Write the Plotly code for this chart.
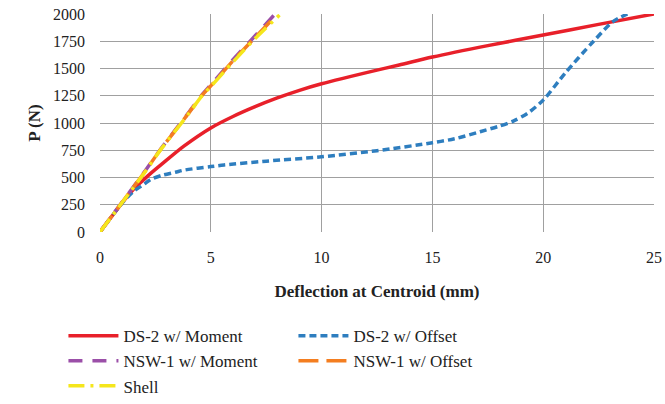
import plotly.graph_objects as go

ds2_moment_x = [0, 0.5, 1, 1.5, 2, 2.3, 2.8, 3.8, 5, 6, 7, 8, 9, 10, 12.5, 13.5, 15, 17.5, 20, 22.5, 25]
ds2_moment_y = [0, 135, 268, 390, 485, 540, 625, 790, 955, 1060, 1150, 1230, 1300, 1360, 1485, 1532, 1605, 1710, 1807, 1905, 2000]

ds2_offset_x = [0, 0.5, 1, 1.5, 2, 2.3, 2.8, 3.4, 3.8, 5, 5.6, 7.5, 10, 12.5, 15, 16, 17.15, 18, 18.65, 19.3, 20, 21, 22.25, 23.15, 23.8]
ds2_offset_y = [0, 135, 265, 370, 440, 483, 520, 548, 568, 600, 615, 650, 690, 746, 819, 855, 920, 970, 1018, 1090, 1210, 1460, 1745, 1930, 2000]

nsw1_moment_x = [0, 1, 2, 2.7, 4, 4.6, 5, 6, 7, 7.9]
nsw1_moment_y = [0, 275, 550, 750, 1095, 1258, 1350, 1580, 1800, 2000]

nsw1_offset_x = [0, 1, 2, 2.7, 4, 4.6, 5, 6, 7, 7.8]
nsw1_offset_y = [0, 273, 546, 747, 1090, 1253, 1340, 1570, 1785, 1955]

shell_x = [0, 1, 2, 2.7, 4, 4.6, 5, 6, 7, 8.1]
shell_y = [0, 270, 542, 744, 1085, 1248, 1335, 1560, 1775, 1990]

fig = go.Figure()
fig.add_trace(go.Scatter(x=ds2_moment_x, y=ds2_moment_y, mode="lines", name="DS-2 w/ Moment",
                         line=dict(color="#e8202a", width=3.5, shape="spline", smoothing=0.8)))
fig.add_trace(go.Scatter(x=ds2_offset_x, y=ds2_offset_y, mode="lines", name="DS-2 w/ Offset",
                         line=dict(color="#2e7ebf", width=3.5, dash="7px,4px", shape="spline", smoothing=0.8)))
fig.add_trace(go.Scatter(x=nsw1_moment_x, y=nsw1_moment_y, mode="lines", name="NSW-1 w/ Moment",
                         line=dict(color="#9b4fa8", width=3.5, dash="14px,10px", shape="spline", smoothing=0.8)))
fig.add_trace(go.Scatter(x=nsw1_offset_x, y=nsw1_offset_y, mode="lines", name="NSW-1 w/ Offset",
                         line=dict(color="#f47e20", width=3.5, dash="20px,8px", shape="spline", smoothing=0.8)))
fig.add_trace(go.Scatter(x=shell_x, y=shell_y, mode="lines", name="Shell",
                         line=dict(color="#f5e61c", width=3.5, dash="16px,6px,3px,6px", shape="spline", smoothing=0.8)))

font_family = "Liberation Serif"
fig.update_layout(
    width=665, height=404,
    margin=dict(l=100, r=11, t=14, b=172, autoexpand=False),
    paper_bgcolor="white", plot_bgcolor="white",
    font=dict(family=font_family, size=16, color="#222"),
    xaxis=dict(range=[0, 25], dtick=5, showgrid=True, gridcolor="#a0a0a0", gridwidth=1.3,
               zeroline=False, showline=False, ticks="", tickfont=dict(size=16, family=font_family),
               automargin=False, ticklabelstandoff=14,
               title=dict(text="<b>Deflection at Centroid (mm)</b>", font=dict(size=17, family=font_family), standoff=20)),
    yaxis=dict(range=[0, 2000], dtick=250, showgrid=True, gridcolor="#a0a0a0", gridwidth=1.3,
               zeroline=False, showline=False, ticks="", tickfont=dict(size=16, family=font_family),
               automargin=False, ticklabelstandoff=14,
               title=dict(text="<b>P (N)</b>", font=dict(size=17, family=font_family), standoff=8)),
    legend=dict(orientation="h", x=-0.066, xanchor="left", y=-0.395, yanchor="top",
                entrywidth=165, entrywidthmode="pixels", font=dict(size=17, family=font_family),
                tracegroupgap=0, itemwidth=50),
    showlegend=True,
)
fig.write_html("out.html")
